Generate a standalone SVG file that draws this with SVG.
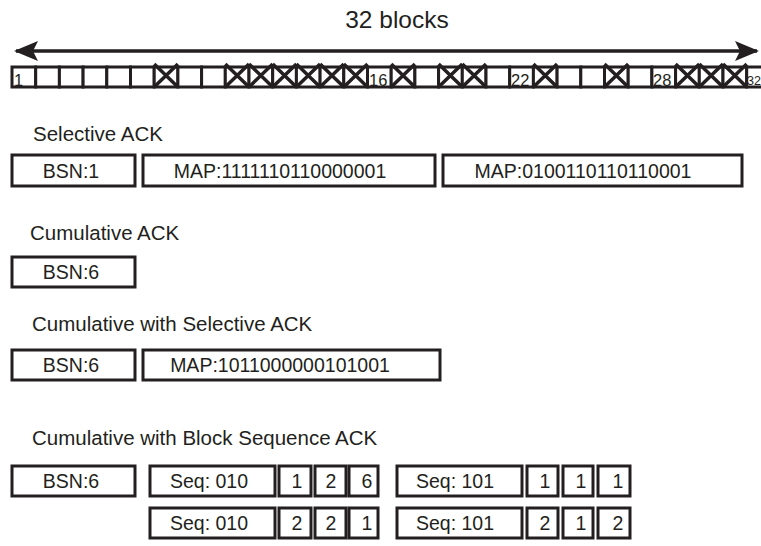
<svg xmlns="http://www.w3.org/2000/svg" xmlns:xlink="http://www.w3.org/1999/xlink" width="761" height="546" viewBox="0 0 761 546">
<style>
text{font-family:"Liberation Sans",Arial,Helvetica,sans-serif;fill:#231f20}
.title{font-size:24.5px}
.heading{font-size:20.5px}
.lbl{font-size:19.5px;text-anchor:middle}
.num{font-size:16.5px}
.box{fill:#fff;stroke:#231f20;stroke-width:3}
.blk{fill:#fff;stroke:#231f20;stroke-width:3}
.x{stroke:#231f20;stroke-width:3.5;fill:none}
.conn{stroke:#231f20;stroke-width:3.5;fill:none}
</style>
<defs>
<marker id="ah" markerUnits="userSpaceOnUse" viewBox="0 0 24 20" refX="22" refY="10" markerWidth="24" markerHeight="20" orient="auto-start-reverse">
<path d="M0,0 L24,10 L0,20 L5,10 Z" fill="#231f20"/>
</marker>
<path id="cross" class="x" d="M0,-3 L23.7,20 M23.7,-3 L0,20"/>
</defs>
<rect width="761" height="546" fill="#fff"/>
<text class="title" x="397" y="28" text-anchor="middle">32 blocks</text>
<g id="connectors">
<line class="conn" x1="16" y1="51" x2="757" y2="51" marker-start="url(#ah)" marker-end="url(#ah)"/>
</g>
<g id="blocks">
<g id="block-1"><rect class="blk" x="12" y="67" width="23.7" height="20"/><text class="num" x="14" y="85.5">1</text></g>
<g id="block-2"><rect class="blk" x="35.7" y="67" width="23.7" height="20"/></g>
<g id="block-3"><rect class="blk" x="59.4" y="67" width="23.7" height="20"/></g>
<g id="block-4"><rect class="blk" x="83.1" y="67" width="23.7" height="20"/></g>
<g id="block-5"><rect class="blk" x="106.8" y="67" width="23.7" height="20"/></g>
<g id="block-6"><rect class="blk" x="130.5" y="67" width="23.7" height="20"/></g>
<g id="block-7"><rect class="blk" x="154.2" y="67" width="23.7" height="20"/><use xlink:href="#cross" x="154.2" y="67"/></g>
<g id="block-8"><rect class="blk" x="177.9" y="67" width="23.7" height="20"/></g>
<g id="block-9"><rect class="blk" x="201.6" y="67" width="23.7" height="20"/></g>
<g id="block-10"><rect class="blk" x="225.3" y="67" width="23.7" height="20"/><use xlink:href="#cross" x="225.3" y="67"/></g>
<g id="block-11"><rect class="blk" x="249" y="67" width="23.7" height="20"/><use xlink:href="#cross" x="249" y="67"/></g>
<g id="block-12"><rect class="blk" x="272.7" y="67" width="23.7" height="20"/><use xlink:href="#cross" x="272.7" y="67"/></g>
<g id="block-13"><rect class="blk" x="296.4" y="67" width="23.7" height="20"/><use xlink:href="#cross" x="296.4" y="67"/></g>
<g id="block-14"><rect class="blk" x="320.1" y="67" width="23.7" height="20"/><use xlink:href="#cross" x="320.1" y="67"/></g>
<g id="block-15"><rect class="blk" x="343.8" y="67" width="23.7" height="20"/><use xlink:href="#cross" x="343.8" y="67"/></g>
<g id="block-16"><rect class="blk" x="367.5" y="67" width="23.7" height="20"/><text class="num" x="369" y="85.5">16</text></g>
<g id="block-17"><rect class="blk" x="391.2" y="67" width="23.7" height="20"/><use xlink:href="#cross" x="391.2" y="67"/></g>
<g id="block-18"><rect class="blk" x="414.9" y="67" width="23.7" height="20"/></g>
<g id="block-19"><rect class="blk" x="438.6" y="67" width="23.7" height="20"/><use xlink:href="#cross" x="438.6" y="67"/></g>
<g id="block-20"><rect class="blk" x="462.3" y="67" width="23.7" height="20"/><use xlink:href="#cross" x="462.3" y="67"/></g>
<g id="block-21"><rect class="blk" x="486" y="67" width="23.7" height="20"/></g>
<g id="block-22"><rect class="blk" x="509.7" y="67" width="23.7" height="20"/><text class="num" x="511" y="85.5">22</text></g>
<g id="block-23"><rect class="blk" x="533.4" y="67" width="23.7" height="20"/><use xlink:href="#cross" x="533.4" y="67"/></g>
<g id="block-24"><rect class="blk" x="557.1" y="67" width="23.7" height="20"/></g>
<g id="block-25"><rect class="blk" x="580.8" y="67" width="23.7" height="20"/></g>
<g id="block-26"><rect class="blk" x="604.5" y="67" width="23.7" height="20"/><use xlink:href="#cross" x="604.5" y="67"/></g>
<g id="block-27"><rect class="blk" x="628.2" y="67" width="23.7" height="20"/></g>
<g id="block-28"><rect class="blk" x="651.9" y="67" width="23.7" height="20"/><text class="num" x="653" y="85.5">28</text></g>
<g id="block-29"><rect class="blk" x="675.6" y="67" width="23.7" height="20"/><use xlink:href="#cross" x="675.6" y="67"/></g>
<g id="block-30"><rect class="blk" x="699.3" y="67" width="23.7" height="20"/><use xlink:href="#cross" x="699.3" y="67"/></g>
<g id="block-31"><rect class="blk" x="723" y="67" width="23.7" height="20"/><use xlink:href="#cross" x="723" y="67"/></g>
<g id="block-32"><rect class="blk" x="746.7" y="67" width="23.7" height="20"/><text class="num" x="747" y="85" style="font-size:12.5px">32</text></g>
</g>

<text class="heading" x="33" y="141">Selective ACK</text>
<g id="sel-bsn"><rect class="box" x="12" y="155" width="123" height="31"/><text class="lbl" x="71" y="178">BSN:1</text></g>
<g id="sel-map1"><rect class="box" x="143" y="155" width="292" height="31"/><text class="lbl" x="280" y="178">MAP:1111110110000001</text></g>
<g id="sel-map2"><rect class="box" x="443" y="155" width="299" height="31"/><text class="lbl" x="583" y="178">MAP:0100110110110001</text></g>

<text class="heading" x="30" y="240">Cumulative ACK</text>
<g id="cum-bsn"><rect class="box" x="12" y="257" width="123" height="30"/><text class="lbl" x="71" y="279">BSN:6</text></g>

<text class="heading" x="32" y="331">Cumulative with Selective ACK</text>
<g id="cs-bsn"><rect class="box" x="12" y="350" width="123" height="30"/><text class="lbl" x="71" y="372">BSN:6</text></g>
<g id="cs-map"><rect class="box" x="143" y="350" width="297" height="30"/><text class="lbl" x="280" y="372">MAP:1011000000101001</text></g>

<text class="heading" x="32" y="445">Cumulative with Block Sequence ACK</text>
<g id="bs-bsn"><rect class="box" x="12" y="466" width="123" height="30"/><text class="lbl" x="71" y="488">BSN:6</text></g>
<g id="bs-seq1"><rect class="box" x="150" y="466" width="125" height="30"/><text class="lbl" x="209" y="488">Seq: 010</text></g>
<g id="bs-seq1-a"><rect class="box" x="279" y="466" width="32" height="30"/><text class="lbl" x="297" y="488">1</text></g>
<g id="bs-seq1-b"><rect class="box" x="315" y="466" width="31" height="30"/><text class="lbl" x="331" y="488">2</text></g>
<g id="bs-seq1-c"><rect class="box" x="349" y="466" width="29" height="30"/><text class="lbl" x="367" y="488">6</text></g>
<g id="bs-seq2"><rect class="box" x="397" y="466" width="125" height="30"/><text class="lbl" x="455" y="488">Seq: 101</text></g>
<g id="bs-seq2-a"><rect class="box" x="527" y="466" width="31" height="30"/><text class="lbl" x="545" y="488">1</text></g>
<g id="bs-seq2-b"><rect class="box" x="563" y="466" width="30" height="30"/><text class="lbl" x="581" y="488">1</text></g>
<g id="bs-seq2-c"><rect class="box" x="598" y="466" width="32" height="30"/><text class="lbl" x="618" y="488">1</text></g>
<g id="bs-seq3"><rect class="box" x="150" y="508" width="125" height="30"/><text class="lbl" x="209" y="530">Seq: 010</text></g>
<g id="bs-seq3-a"><rect class="box" x="279" y="508" width="32" height="30"/><text class="lbl" x="297" y="530">2</text></g>
<g id="bs-seq3-b"><rect class="box" x="315" y="508" width="31" height="30"/><text class="lbl" x="331" y="530">2</text></g>
<g id="bs-seq3-c"><rect class="box" x="349" y="508" width="29" height="30"/><text class="lbl" x="367" y="530">1</text></g>
<g id="bs-seq4"><rect class="box" x="397" y="508" width="125" height="30"/><text class="lbl" x="455" y="530">Seq: 101</text></g>
<g id="bs-seq4-a"><rect class="box" x="527" y="508" width="31" height="30"/><text class="lbl" x="545" y="530">2</text></g>
<g id="bs-seq4-b"><rect class="box" x="563" y="508" width="30" height="30"/><text class="lbl" x="581" y="530">1</text></g>
<g id="bs-seq4-c"><rect class="box" x="598" y="508" width="32" height="30"/><text class="lbl" x="618" y="530">2</text></g>
</svg>
